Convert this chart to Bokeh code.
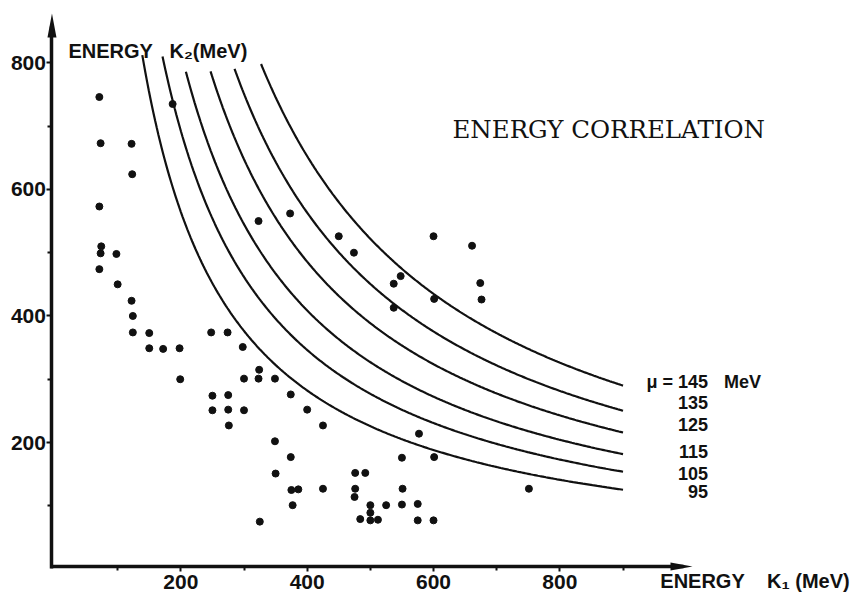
import numpy as np
from bokeh.plotting import figure
from bokeh.models import Range1d, FixedTicker
from bokeh.core.properties import value
from bokeh.embed import file_html
from bokeh.resources import INLINE

k1_points = [71, 73, 122, 123, 187, 71, 74, 73, 98, 71, 100, 122, 124, 124, 150, 150, 172, 198, 199,
             248, 274, 298, 324, 300, 323, 349, 374, 250, 275, 250, 275, 300, 276, 349, 374, 350, 375,
             386, 377, 325, 323, 373, 450, 474, 600, 661, 548, 537, 674, 676, 601, 537, 400, 425, 577,
             550, 601, 476, 492, 425, 476, 475, 551, 751, 500, 525, 550, 575, 500, 484, 500, 512, 575, 600]
k2_points = [746, 673, 672, 624, 735, 573, 510, 499, 498, 474, 450, 424, 400, 374, 373, 349, 348, 349, 300,
             374, 374, 351, 315, 301, 301, 301, 276, 274, 275, 251, 252, 251, 227, 202, 177, 151, 125,
             126, 101, 75, 550, 562, 526, 500, 526, 511, 463, 451, 452, 426, 427, 413, 252, 227, 214,
             176, 177, 152, 152, 127, 127, 114, 127, 127, 101, 101, 102, 103, 89, 79, 77, 78, 77, 77]

# ---- kinematic curves: K1*K2 = const for each mass mu ----
mu_values = [95, 105, 115, 125, 135, 145]
curve_products = [112900, 138500, 163500, 194300, 225300, 261000]
curve_k1_start = [139, 171, 208, 247, 285, 327]
curve_k1_end = 900

x_ticks = [200, 400, 600, 800]
x_minor = [100, 300, 500, 700, 900]
y_ticks = [200, 400, 600, 800]
y_minor = [100, 300, 500, 700]

x_axis_end = 1010
y_axis_end = 878
x_axis_at = 4     # hand-drawn axes sit slightly off the origin
y_axis_at = -4

W, H = 866, 593
SX = 0.6317    # px per MeV horizontally
SY = 0.6328    # px per MeV vertically
X0, Y0 = 54, 568.6  # canvas position of the origin

p = figure(width=W, height=H, output_backend="svg", toolbar_location=None,
           x_range=Range1d(-X0 / SX, (W - X0) / SX),
           y_range=Range1d(-(H - Y0) / SY, Y0 / SY),
           min_border=0, min_border_left=0, min_border_right=0,
           min_border_top=0, min_border_bottom=0)
p.outline_line_color = None
p.grid.visible = False
p.background_fill_color = "white"
p.border_fill_color = "white"

INK = "#111111"
SANS = "Liberation Sans"

for ax, ticks, minors in ((p.xaxis, x_ticks, x_minor), (p.yaxis, y_ticks, y_minor)):
    ax.ticker = FixedTicker(ticks=ticks, minor_ticks=minors)
    ax.axis_line_width = 3.5
    ax.axis_line_color = INK
    ax.major_tick_line_color = INK
    ax.major_tick_line_width = 2
    ax.major_tick_in = 0
    ax.major_tick_out = 5
    ax.minor_tick_line_color = INK
    ax.minor_tick_line_width = 2
    ax.minor_tick_in = 0
    ax.minor_tick_out = 4
    ax.major_label_text_font = SANS
    ax.major_label_text_font_style = "bold"
    ax.major_label_text_font_size = "21px"
    ax.major_label_text_color = INK

p.xaxis.fixed_location = x_axis_at
p.yaxis.fixed_location = y_axis_at
p.xaxis.bounds = (y_axis_at - 2.5, x_axis_end - 15)
p.yaxis.bounds = (x_axis_at - 2.5, y_axis_end - 20)
p.xaxis.major_label_standoff = 3
p.yaxis.major_label_standoff = 1

# arrow heads (sized in pixels, converted to data units)
xh_len, xh_half = 22 / SX, 4 / SY
yh_len, yh_half = 24 / SY, 4.5 / SX
p.patch([x_axis_end, x_axis_end - xh_len, x_axis_end - xh_len],
        [x_axis_at, x_axis_at + xh_half, x_axis_at - xh_half], color=INK, line_width=0)
p.patch([y_axis_at, y_axis_at + yh_half, y_axis_at - yh_half],
        [y_axis_end, y_axis_end - yh_len, y_axis_end - yh_len], color=INK, line_width=0)

# curves
for c, k1s in zip(curve_products, curve_k1_start):
    k1 = np.linspace(k1s, curve_k1_end, 300)
    p.line(k1, c / k1, line_color=INK, line_width=2.2)

# events
p.scatter(k1_points, k2_points, size=7, color=INK)

# curve labels (pixel nudges relative to each curve's end)
label_nudge_px = [2, 2, -3, -8, -8, -4]
lab_text = [str(m) for m in mu_values[:-1]] + ["\u03bc = " + str(mu_values[-1])]
lab_y = [c / curve_k1_end for c in curve_products]
p.text([curve_k1_end] * len(mu_values), lab_y, text=lab_text,
       x_offset=85, y_offset=label_nudge_px, text_align="right", text_baseline="middle",
       text_font=value(SANS), text_font_style="bold", text_font_size="18px", text_color=INK)
p.text([curve_k1_end], [lab_y[-1]], text=["MeV"],
       x_offset=101, y_offset=label_nudge_px[-1], text_align="left", text_baseline="middle",
       text_font=value(SANS), text_font_style="bold", text_font_size="18px", text_color=INK)

# axis titles
p.text([22], [818], text=["ENERGY\u00a0\u00a0\u00a0K\u2082(MeV)"], text_align="left",
       text_baseline="middle", text_font=value(SANS), text_font_style="bold",
       text_font_size="20px", text_color=INK)
p.text([959], [-18.5], text=["ENERGY\u00a0\u00a0\u00a0\u00a0K\u2081\u00a0(MeV)"], text_align="left",
       text_baseline="middle", text_font=value(SANS), text_font_style="bold",
       text_font_size="20px", text_color=INK)

# chart title
p.text([630], [694.6], text=["ENERGY CORRELATION"], text_align="left",
       text_baseline="middle", text_font=value("DejaVu Serif"),
       text_font_size="24.5px", text_color=INK)

open("out.html", "w").write(file_html(p, INLINE))
